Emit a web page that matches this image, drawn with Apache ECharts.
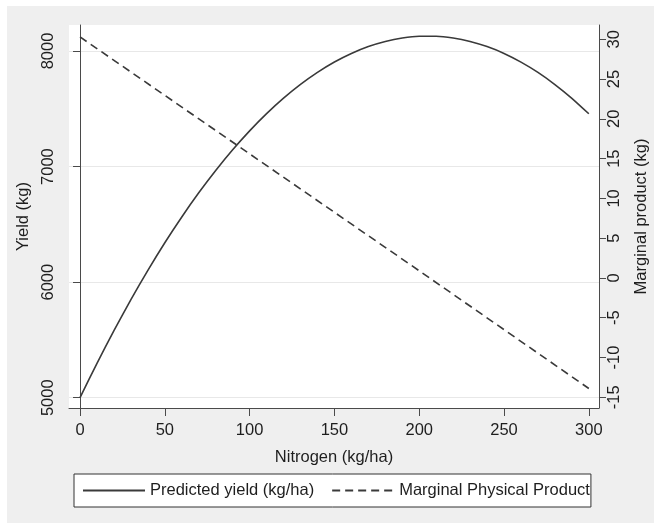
<!DOCTYPE html>
<html>
<head>
<meta charset="utf-8">
<script src="https://cdn.jsdelivr.net/npm/echarts@6/dist/echarts.min.js"></script>
<style>
  body { margin: 0; background: #fff; }
  #bg { position: absolute; left: 7px; top: 6px; width: 647px; height: 517px; background: #efefef; }
  #main { position: absolute; left: 0; top: 0; width: 654px; height: 523px; }
</style>
</head>
<body>
<div id="bg"></div>
<div id="main"></div>
<script>
// values
var nitrogen = [0, 10, 20, 30, 40, 50, 60, 70, 80, 90, 100, 110, 120, 130, 140, 150,
  160, 170, 180, 190, 200, 210, 220, 230, 240, 250, 260, 270, 280, 290, 300]
var predictedYield = [5000, 5298, 5581, 5849, 6102, 6341, 6564, 6773, 6966, 7145, 7309,
  7458, 7592, 7711, 7815, 7905, 7979, 8039, 8083, 8113, 8128, 8128, 8113, 8083, 8038,
  7979, 7904, 7815, 7710, 7591, 7457]
var mppNitrogen = [0, 100, 200, 300]
var marginalProduct = [30.3, 15.6, 0.9, -13.9]

var xTicks = [0, 50, 100, 150, 200, 250, 300]
var yieldTicks = [5000, 6000, 7000, 8000]
var mppTicks = [-15, -10, -5, 0, 5, 10, 15, 20, 25, 30]

var font = 'Liberation Sans'
var ink = '#1e1e1e'
var axisColor = '#4a4a4a'
var lineColor = '#3a3a3a'

function pairs(xs, ys) {
  return xs.map(function (x, i) { return [x, ys[i]] })
}
// plain numbers, no thousands separator
function plain(v) { return String(v) }

var chart = echarts.init(document.getElementById('main'), null, { renderer: 'canvas' })

chart.setOption({
  backgroundColor: 'transparent',
  animation: false,
  textStyle: { fontFamily: font },
  grid: {
    left: 69, right: 55, top: 25, bottom: 115,
    show: true, backgroundColor: '#ffffff', borderWidth: 0,
    containLabel: false, outerBoundsMode: 'none'
  },
  legend: {
    left: 74, top: 474,
    padding: [8, 1, 8, 8],
    itemWidth: 62, itemHeight: 2, itemGap: 17,
    itemStyle: { opacity: 0 },
    backgroundColor: '#ffffff',
    borderColor: '#333', borderWidth: 1, borderRadius: 0,
    textStyle: { fontFamily: font, fontSize: 16.5, color: ink, lineHeight: 17 },
    data: ['Predicted yield (kg/ha)', 'Marginal Physical Product']
  },
  xAxis: {
    type: 'value', min: -6.5, max: 306,
    name: 'Nitrogen (kg/ha)', nameLocation: 'middle', nameGap: 41,
    nameTextStyle: { fontFamily: font, fontSize: 16.5, color: ink },
    axisLine: { show: true, onZero: false, lineStyle: { color: axisColor, width: 1 } },
    axisTick: { show: true, length: 8, customValues: xTicks, lineStyle: { color: axisColor } },
    axisLabel: { customValues: xTicks, margin: 14, fontSize: 16.5, color: ink, fontFamily: font, formatter: plain },
    splitLine: { show: false }
  },
  yAxis: [{
    type: 'value', position: 'left', min: 4911, max: 8225,
    name: 'Yield (kg)', nameLocation: 'middle', nameGap: 37,
    nameTextStyle: { fontFamily: font, fontSize: 16.5, color: ink },
    axisLine: { show: true, lineStyle: { color: axisColor, width: 1 } },
    axisTick: { show: true, length: 7, customValues: yieldTicks, lineStyle: { color: axisColor } },
    axisLabel: { customValues: yieldTicks, rotate: 90, margin: 12, fontSize: 16.5, color: ink, fontFamily: font, formatter: plain },
    splitLine: { show: true, lineStyle: { color: '#e8e8e8', width: 1 } }
  }, {
    type: 'value', position: 'right', min: -16.35, max: 31.8,
    name: 'Marginal product (kg)', nameLocation: 'middle', nameGap: 34,
    nameTextStyle: { fontFamily: font, fontSize: 16.5, color: ink },
    axisLine: { show: true, lineStyle: { color: axisColor, width: 1 } },
    axisTick: { show: true, length: 7, customValues: mppTicks, lineStyle: { color: axisColor } },
    axisLabel: { customValues: mppTicks, rotate: 90, margin: 7, fontSize: 16.5, color: ink, fontFamily: font, formatter: plain },
    splitLine: { show: false }
  }],
  series: [{
    name: 'Predicted yield (kg/ha)',
    type: 'line', yAxisIndex: 0,
    data: pairs(nitrogen, predictedYield),
    symbol: 'none', smooth: 0.2,
    lineStyle: { color: lineColor, width: 1.6, type: 'solid' },
    itemStyle: { color: lineColor }
  }, {
    name: 'Marginal Physical Product',
    type: 'line', yAxisIndex: 1,
    data: pairs(mppNitrogen, marginalProduct),
    symbol: 'none',
    lineStyle: { color: lineColor, width: 1.6, type: [8, 5] },
    itemStyle: { color: lineColor }
  }]
})
</script>
</body>
</html>
